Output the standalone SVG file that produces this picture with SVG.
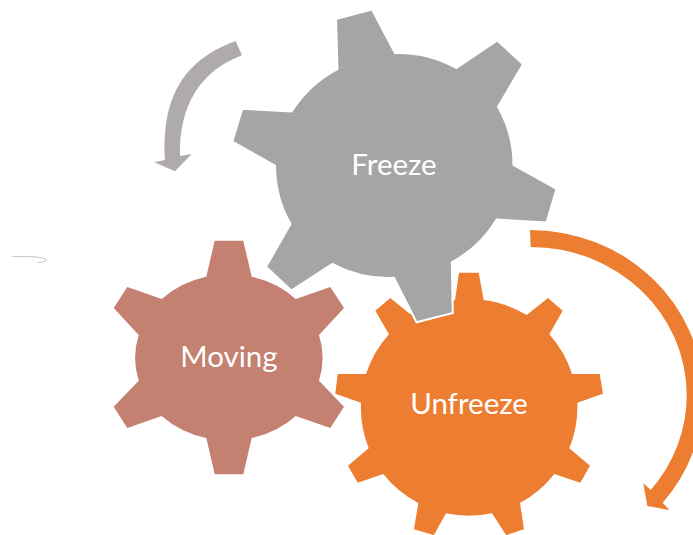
<svg xmlns="http://www.w3.org/2000/svg" width="693" height="535" viewBox="0 0 693 535">
<style>
text{font-family:"Lato","Liberation Sans",sans-serif;font-size:29.5px;fill:#fff;text-anchor:middle}
</style>
<rect width="693" height="535" fill="#fff"/>
<g id="connectors">
<path id="arrow-gray" fill="#AFABAB" d="M235.7 41L242 55.3C200 71 179 106 180 156L191.7 154L175 171.3L154.3 162.3L165 160C162 104 178 62 235.7 41Z"/>
<path id="arrow-orange" fill="#ED7D31" d="M530 230A173 165 0 0 1 703 395A173 165 0 0 1 662.7 502.7L669.3 510L647.3 506L643.3 483.3L650.7 490A156 148 0 0 0 686.7 395A156 148 0 0 0 530.7 247Z"/>
<path id="scribble" fill="none" stroke="#c4c4c4" stroke-width="1" d="M12.3 256.3L33 256.7Q44 257.5 46.7 260Q46 262 38 262.3"/>
</g>
<g id="node-moving">
<path fill="#C48070" d="M214.7 240.7H243.3L251.7 276.7A93.5 83.5 0 0 1 295.7 299L330.3 287L344 308L319 335A93.5 83.5 0 0 1 319 380.7L344 406.7L330.3 428L295.7 416A93.5 83.5 0 0 1 251.7 438L243.3 474.3H214.7L206.3 438A93.5 83.5 0 0 1 161.7 416L127.3 428L113.7 406.7L138.7 380.7A93.5 83.5 0 0 1 138.7 335L113.7 308L127.3 287L161.7 299A93.5 83.5 0 0 1 206.3 276.7Z"/>
<text x="229" y="367">Moving</text>
</g>
<g id="node-unfreeze">
<path fill="#ED7D31" d="M459 272.7H478.7L483.7 300A108.5 108.5 0 0 1 526.7 315L548 298L562.7 310.7L549.3 334.3A108.5 108.5 0 0 1 572 374H599.7L603 393.7L577.3 402.7A108.5 108.5 0 0 1 569.3 448.3L590 465.7L580.3 482.7L554.3 474A108.5 108.5 0 0 1 520 503L524 529.3L506.7 535H433.3L414 529.3L418.3 503A108.5 108.5 0 0 1 383.3 474L357.7 482.7L348 465.7L368.7 448.3A108.5 108.5 0 0 1 361 402.7L335.3 393.7L337.7 374H366A108.5 108.5 0 0 1 389 334.3L375.3 310.7L390.3 298L410 314L455 300Z"/>
<path fill="#fff" d="M492 513.3L506.7 536H433.3L446 513.3A108.5 108.5 0 0 0 492 513.3Z"/>
<text x="469" y="414">Unfreeze</text>
</g>
<g id="node-freeze">
<path fill="#A5A5A5" stroke="#fff" stroke-width="2" d="M336 19L372 9.5L395 53A118.5 118.5 0 0 1 456.3 68L497.3 40.5L523 64.3L498 106.7A118.5 118.5 0 0 1 513.5 165L556.5 189L546.5 222.5L496.7 219.5A118.5 118.5 0 0 1 451.8 262.3L452.8 313L416.5 322.3L394 277.8A118.5 118.5 0 0 1 332.3 263.8L291.3 290.5L266 266.7L290.5 224A118.5 118.5 0 0 1 275 165.7L232.3 141.5L242.3 108.8L291.7 111.5A118.5 118.5 0 0 1 337.5 69Z"/>
<text x="394" y="175">Freeze</text>
</g>
</svg>
